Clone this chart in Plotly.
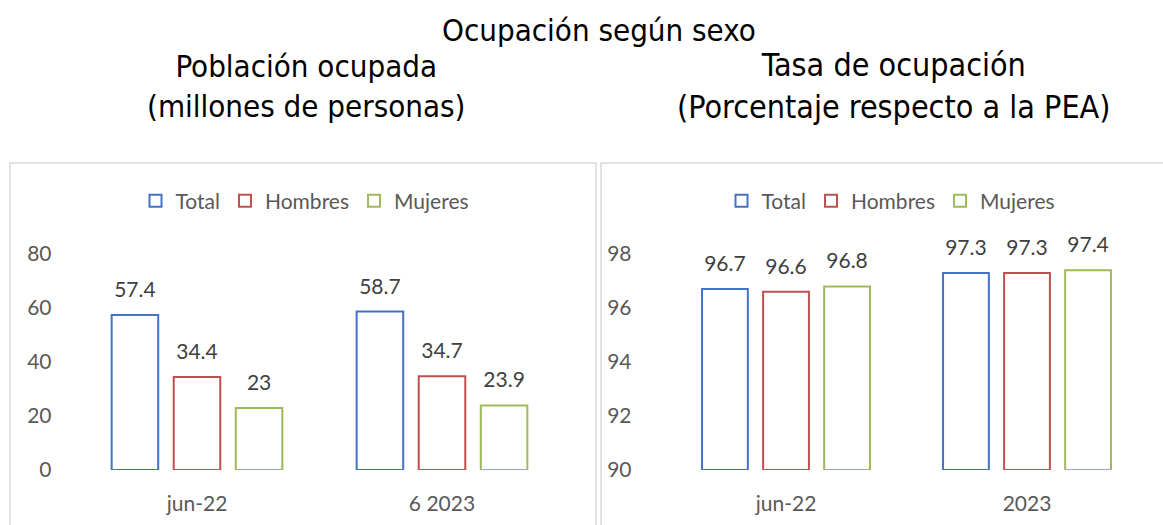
import plotly.graph_objects as go

categories_left = ["jun-22", "6 2023"]
categories_right = ["jun-22", "2023"]
series_names = ["Total", "Hombres", "Mujeres"]
poblacion = {"Total": [57.4, 58.7], "Hombres": [34.4, 34.7], "Mujeres": [23.0, 23.9]}
tasa = {"Total": [96.7, 97.3], "Hombres": [96.6, 97.3], "Mujeres": [96.8, 97.4]}
left_ticks = [0, 20, 40, 60, 80]
right_ticks = [90, 92, 94, 96, 98]
right_axis_min = 90

colors = {"Total": "#4472C4", "Hombres": "#C0504D", "Mujeres": "#9BBB59"}
W, H = 1163, 525
FONT = "Lato"
GRAY = "#595959"
TPL = "<span style='font-size:21px'>%{text}</span><br> "

fig = go.Figure()
for name in series_names:
    fig.add_trace(go.Bar(
        x=categories_left, y=poblacion[name], name=name,
        marker=dict(color="white", line=dict(color=colors[name], width=2)),
        text=[f"{v:g}" for v in poblacion[name]], texttemplate=TPL,
        textposition="outside", cliponaxis=False,
        textfont=dict(size=10, color="#404040", family=FONT),
        xaxis="x", yaxis="y", legend="legend", offsetgroup=name,
    ))
for name in series_names:
    fig.add_trace(go.Bar(
        x=categories_right, y=[v - right_axis_min for v in tasa[name]], base=right_axis_min,
        name=name,
        marker=dict(color="white", line=dict(color=colors[name], width=2)),
        text=[f"{v:g}" for v in tasa[name]], texttemplate=TPL,
        textposition="outside", cliponaxis=False,
        textfont=dict(size=10, color="#404040", family=FONT),
        xaxis="x2", yaxis="y2", legend="legend2", offsetgroup=name,
    ))

def px(x):
    return x / W

def py(y):
    return (H - y) / H

fig.update_layout(
    width=W, height=H, margin=dict(l=0, r=0, t=0, b=0, autoexpand=False),
    paper_bgcolor="white", plot_bgcolor="white",
    barmode="group", bargap=0.24, bargroupgap=0.25,
    font=dict(family=FONT, color=GRAY, size=21),
    xaxis=dict(domain=[px(74.5), px(564.5)], anchor="y", showgrid=False, showline=False,
               ticks="", ticklabelstandoff=19, tickfont=dict(size=21, color=GRAY), automargin=False),
    yaxis=dict(domain=[py(470), py(254)], anchor="x", range=[0, 80], tickvals=left_ticks,
               showgrid=False, showline=False, zeroline=False, ticks="", ticklabelstandoff=22,
               tickfont=dict(size=21, color=GRAY), automargin=False),
    xaxis2=dict(domain=[px(665.5), px(1147.5)], anchor="y2", showgrid=False, showline=False,
                ticks="", ticklabelstandoff=19, tickfont=dict(size=21, color=GRAY), automargin=False),
    yaxis2=dict(domain=[py(470), py(254)], anchor="x2", range=[90, 98], tickvals=right_ticks,
                showgrid=False, showline=False, zeroline=False, ticks="", ticklabelstandoff=33,
                tickfont=dict(size=21, color=GRAY), automargin=False),
    legend=dict(orientation="h", x=px(305), xanchor="center", y=py(201), yanchor="middle",
                font=dict(size=21, color=GRAY), itemwidth=30, bgcolor="rgba(0,0,0,0)"),
    legend2=dict(orientation="h", x=px(891), xanchor="center", y=py(201), yanchor="middle",
                 font=dict(size=21, color=GRAY), itemwidth=30, bgcolor="rgba(0,0,0,0)"),
    showlegend=True,
)

TF = "DejaVu Sans Condensed"
fig.add_annotation(text="Ocupación según sexo", x=px(599), y=py(30), xref="paper", yref="paper",
                   xanchor="center", yanchor="middle", showarrow=False,
                   font=dict(size=31, color="black", family=TF))
fig.add_annotation(text="Población ocupada<br>(millones de personas)", x=px(306), y=py(86),
                   xref="paper", yref="paper", xanchor="center", yanchor="middle", showarrow=False,
                   font=dict(size=31, color="black", family=TF))
fig.add_annotation(text="Tasa de ocupación<br>(Porcentaje respecto a la PEA)", x=px(894), y=py(86),
                   xref="paper", yref="paper", xanchor="center", yanchor="middle", showarrow=False,
                   font=dict(size=32, color="black", family=TF))

fig.add_shape(type="rect", xref="paper", yref="paper", x0=px(10), x1=px(596), y0=-0.05, y1=py(163),
              line=dict(color="#D9D9D9", width=1.5), layer="below")
fig.add_shape(type="rect", xref="paper", yref="paper", x0=px(601), x1=px(1175), y0=-0.05, y1=py(163),
              line=dict(color="#D9D9D9", width=1.5), layer="below")

fig.write_html("out.html", config={"displayModeBar": False},
               post_script="document.body.style.margin='0';document.body.style.overflow='hidden';")
